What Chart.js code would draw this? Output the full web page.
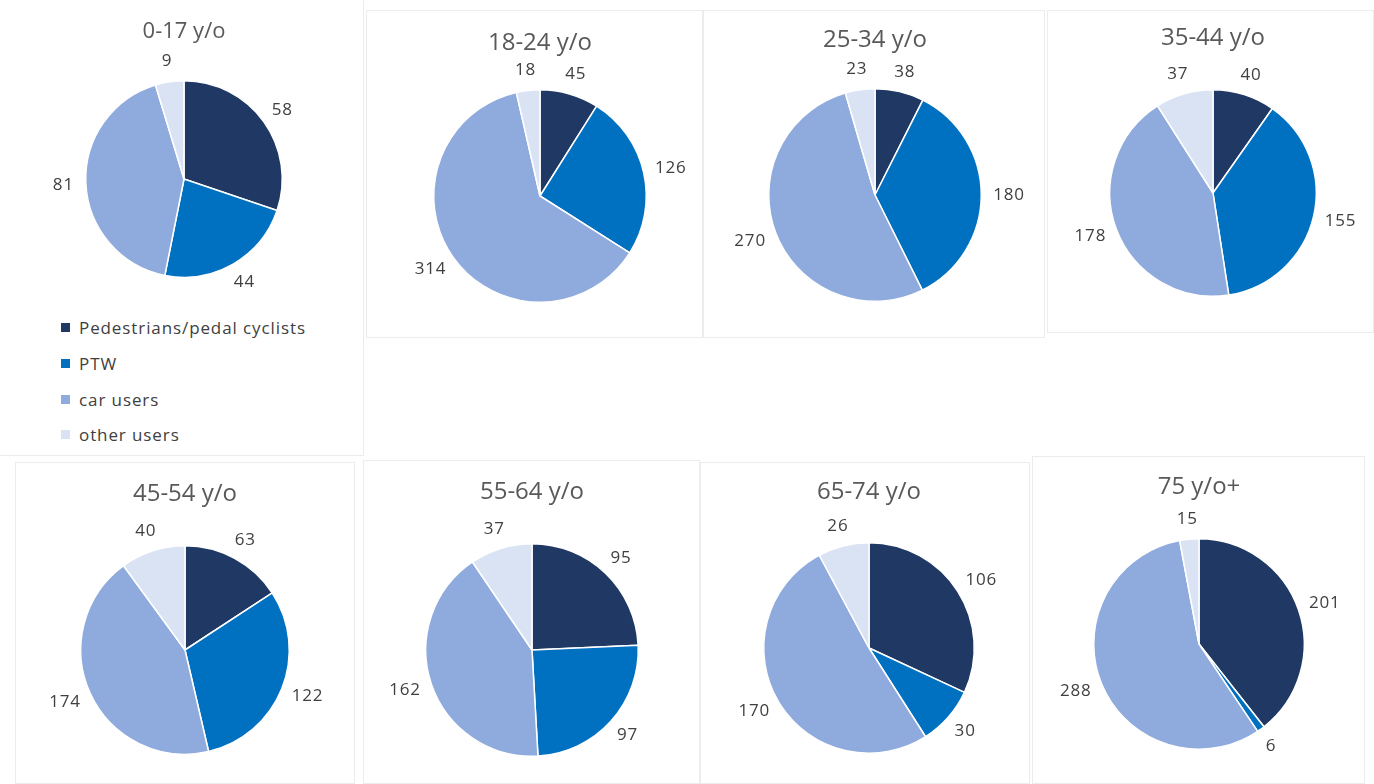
<!DOCTYPE html>
<html>
<head>
<meta charset="utf-8">
<script src="https://cdn.jsdelivr.net/npm/chart.js@4"></script>
<style>
  body { margin: 0; background: #fff; width: 1374px; height: 784px; position: relative; overflow: hidden; font-family: 'Open Sans', sans-serif; }
  .panel { position: absolute; }
  .panel canvas { position: absolute; left: 0; top: 0; }
  #legend { position: absolute; left: 61px; top: 310px; }
  #legend div { height: 35.7px; font-size: 17px; letter-spacing: 0.9px; color: #404040; display: flex; align-items: center; }
  #legend span { display: inline-block; width: 9px; height: 9px; margin-right: 9px; }
</style>
</head>
<body>
<div id="legend"></div>
<script>
const ageGroups   = ['0-17 y/o', '18-24 y/o', '25-34 y/o', '35-44 y/o', '45-54 y/o', '55-64 y/o', '65-74 y/o', '75 y/o+'];
const userTypes   = ['Pedestrians/pedal cyclists', 'PTW', 'car users', 'other users'];
const pedestrians = [58, 45, 38, 40, 63, 95, 106, 201];
const ptw         = [44, 126, 180, 155, 122, 97, 30, 6];
const carUsers    = [81, 314, 270, 178, 174, 162, 170, 288];
const otherUsers  = [9, 18, 23, 37, 40, 37, 26, 15];
const colors = ['#203864', '#0070c0', '#8faadc', '#dae3f3'];

// panel boxes and pie placement (page px)
const panels = [
  { x: 0,    y: 0,   w: 364, h: 456, cx: 184,  cy: 179, r: 99,  ty: 32,  ts: 22, edge: 'inset -1px -1px 0 #ececec' },
  { x: 366,  y: 10,  w: 337, h: 328, cx: 540,  cy: 196, r: 107, ty: 43,  ts: 24 },
  { x: 703,  y: 10,  w: 342, h: 328, cx: 875,  cy: 195, r: 107, ty: 40,  ts: 24 },
  { x: 1047, y: 10,  w: 327, h: 323, cx: 1213, cy: 193, r: 104, ty: 38,  ts: 24 },
  { x: 15,   y: 462, w: 340, h: 322, cx: 185,  cy: 650, r: 105, ty: 494, ts: 24 },
  { x: 363,  y: 460, w: 337, h: 324, cx: 532,  cy: 650, r: 107, ty: 492, ts: 24 },
  { x: 700,  y: 462, w: 330, h: 322, cx: 869,  cy: 648, r: 106, ty: 492, ts: 24 },
  { x: 1032, y: 456, w: 333, h: 328, cx: 1199, cy: 644, r: 106, ty: 487, ts: 24 }
];

// value labels just outside each slice
const outsideLabels = {
  id: 'outsideLabels',
  afterDatasetsDraw(chart) {
    const ctx = chart.ctx;
    const meta = chart.getDatasetMeta(0);
    const values = chart.data.datasets[0].data;
    ctx.save();
    ctx.font = '17px "Open Sans"';
    ctx.letterSpacing = '0.8px';
    ctx.fillStyle = '#404040';
    ctx.textAlign = 'center';
    ctx.textBaseline = 'middle';
    meta.data.forEach((arc, i) => {
      const p = arc.getProps(['x', 'y', 'startAngle', 'endAngle', 'outerRadius'], true);
      const mid = (p.startAngle + p.endAngle) / 2;
      const dx = Math.cos(mid), dy = Math.sin(mid);
      const txt = String(values[i]);
      const w = ctx.measureText(txt).width, h = 17;
      const d = p.outerRadius + 12;
      const lx = p.x + dx * d + dx * w / 2;
      const ly = p.y + dy * d + dy * h / 2;
      ctx.fillText(txt, lx, ly);
    });
    ctx.restore();
  }
};

ageGroups.forEach((group, i) => {
  const p = panels[i];
  const div = document.createElement('div');
  div.className = 'panel';
  div.style.cssText = `left:${p.x}px;top:${p.y}px;width:${p.w}px;height:${p.h}px;box-shadow:${p.edge || 'inset 0 0 0 1px #ececec'};`;
  const canvas = document.createElement('canvas');
  canvas.width = p.w; canvas.height = p.h;
  div.appendChild(canvas);
  document.body.appendChild(div);

  const titleLine = p.ts * 1.2;
  const ty = p.ty - p.y;
  const top = ty - titleLine / 2;
  const areaTop = p.cy - p.r - p.y;

  new Chart(canvas, {
    type: 'pie',
    data: {
      labels: userTypes,
      datasets: [{
        data: [pedestrians[i], ptw[i], carUsers[i], otherUsers[i]],
        backgroundColor: colors,
        borderColor: '#ffffff',
        borderWidth: 1.5
      }]
    },
    options: {
      responsive: false,
      animation: false,
      layout: {
        padding: {
          left: p.cx - p.r - p.x,
          right: p.x + p.w - (p.cx + p.r),
          top: 0,
          bottom: p.y + p.h - (p.cy + p.r)
        }
      },
      plugins: {
        legend: { display: false },
        tooltip: { enabled: false },
        title: {
          display: true,
          text: group,
          color: '#595959',
          font: { family: 'Open Sans', size: p.ts, weight: 'normal', lineHeight: 1.2 },
          padding: { top: top, bottom: areaTop - top - titleLine }
        }
      }
    },
    plugins: [outsideLabels]
  });
});

// legend for the first panel
const legend = document.getElementById('legend');
userTypes.forEach((t, i) => {
  const row = document.createElement('div');
  row.innerHTML = `<span style="background:${colors[i]}"></span>${t}`;
  legend.appendChild(row);
});
</script>
</body>
</html>
